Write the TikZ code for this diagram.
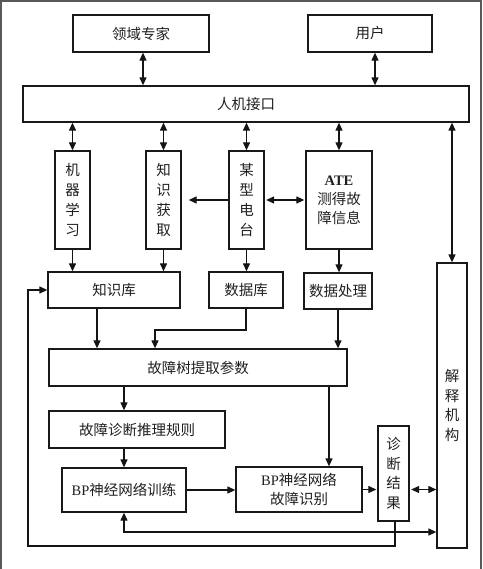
\documentclass[tikz,border=0pt]{standalone}
\usepackage{fontspec}
\setmainfont{Liberation Serif}
\newfontfamily\cjk{Noto Sans CJK SC}
\newfontfamily\latin{Liberation Serif}
\usetikzlibrary{arrows.meta,calc}
\begin{document}
\begin{tikzpicture}[x=1pt,y=-1pt,
  box/.style={draw=black!90,line width=1.3pt,inner sep=0pt,align=center,
    font=\cjk\fontsize{14.5}{20}\selectfont,text=black!88},
  arr/.style={-{Triangle[length=8pt,width=7pt]},line width=1.2pt,draw=black!92},
  dbl/.style={{Triangle[length=8pt,width=7pt]}-{Triangle[length=8pt,width=7pt]},line width=1.2pt,draw=black!92},
  frameline/.style={draw=black!65,line width=1.6pt}]
\useasboundingbox (0,0) rectangle (482,569);
\draw[frameline] (1,569) -- (1,1) -- (481,1) -- (481,569);

\node[box,minimum width=136pt,minimum height=37pt] (expert) at (141,33.5) {领域专家};
\node[box,minimum width=124pt,minimum height=37pt] (user) at (370,33.5) {用户};
\node[box,minimum width=446pt,minimum height=36pt] (hmi) at (246,104) {人机接口};

\node[box,minimum width=35pt,minimum height=98pt] (ml) at (72.5,200) {机\\器\\学\\习};
\node[box,minimum width=35pt,minimum height=98pt] (ka) at (163.5,200) {知\\识\\获\\取};
\node[box,minimum width=35pt,minimum height=98pt] (radio) at (246.5,200) {某\\型\\电\\台};
\node[box,minimum width=66pt,minimum height=98pt,font=\cjk\fontsize{14.5}{19}\selectfont] (ate) at (339,200) {{\latin\bfseries ATE}\\测得故\\障信息};

\node[box,minimum width=132pt,minimum height=36pt] (kb) at (114,290) {知识库};
\node[box,minimum width=74pt,minimum height=36pt] (db) at (246,290) {数据库};
\node[box,minimum width=68pt,minimum height=36pt] (dp) at (338,291) {数据处理};

\node[box,minimum width=30pt,minimum height=285pt,font=\cjk\fontsize{14.5}{19.5}\selectfont] (explain) at (452,405.5) {解\\释\\机\\构};

\node[box,minimum width=298pt,minimum height=37pt] (ft) at (198,367.5) {故障树提取参数};
\node[box,minimum width=176pt,minimum height=37pt] (rule) at (137,429.5) {故障诊断推理规则};
\node[box,minimum width=124pt,minimum height=44pt] (train) at (124,490) {{\latin BP}神经网络训练};
\node[box,minimum width=126pt,minimum height=45pt,font=\cjk\fontsize{14.5}{19}\selectfont] (recog) at (299,489.5) {{\latin BP}神经网络\\故障识别};
\node[box,minimum width=31pt,minimum height=95pt,font=\cjk\fontsize{14.5}{19.5}\selectfont] (result) at (393.5,473.5) {诊\\断\\结\\果};

% top connectors
\draw[dbl] ([xshift=2pt]expert.south) -- ([xshift=2pt]expert.south |- hmi.north);
\draw[dbl] ([xshift=5pt]user.south) -- ([xshift=5pt]user.south |- hmi.north);
\draw[dbl] (ml.north |- hmi.south) -- (ml.north);
\draw[dbl] (ka.north |- hmi.south) -- (ka.north);
\draw[dbl] (radio.north |- hmi.south) -- (radio.north);
\draw[dbl] (ate.north |- hmi.south) -- (ate.north);
\draw[dbl] (explain.north |- hmi.south) -- (explain.north);

\draw[arr,shorten >=7pt] (radio.west) -- (ka.east);
\draw[dbl,shorten <=1.5pt,shorten >=1pt] (radio.east) -- (ate.west);

\draw[arr] (ml.south) -- (ml.south |- kb.north);
\draw[arr] (ka.south) -- (ka.south |- kb.north);
\draw[arr] (radio.south) -- (radio.south |- db.north);
\draw[arr] (ate.south) -- (ate.south |- dp.north);

% to fault tree
\draw[arr] ([xshift=-17pt]kb.south) -- ([xshift=-17pt]kb.south |- ft.north);
\coordinate (dbturn) at (246,330);
\draw[arr] (db.south) -- (dbturn) -| ([xshift=-43pt]ft.north);
\draw[arr] (dp.south) -- (dp.south |- ft.north);

\draw[arr] (ft.south -| train.north) -- (rule.north -| train.north);
\draw[arr] (rule.south -| train.north) -- (train.north);
\draw[arr] ([xshift=30pt]recog.north |- ft.south) -- ([xshift=30pt]recog.north);

\draw[arr] (train.east) -- (train.east -| recog.west);
\draw[arr,shorten >=1pt] (recog.east) -- (recog.east -| result.west);
\draw[dbl,shorten <=1.5pt] (recog.east -| result.east) -- (recog.east -| explain.west);

\coordinate (lowline) at (124,532);
\draw[dbl] (train.south) -- (lowline) -- (lowline -| explain.west);

\coordinate (lb) at (28,546);
\draw[arr] ([xshift=1.5pt]result.south) |- (lb) |- (kb.west);
\end{tikzpicture}
\end{document}
